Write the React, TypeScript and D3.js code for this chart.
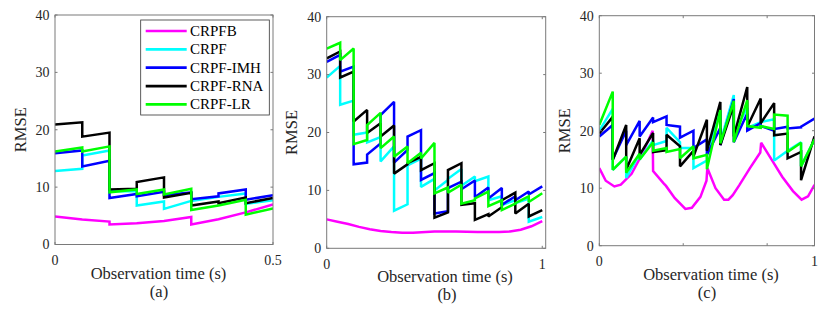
import React from 'react';
import * as d3 from 'd3';

const SERIES = ['CRPFB', 'CRPF', 'CRPF-IMH', 'CRPF-RNA', 'CRPF-LR'];
const COLORS = ['#ff00ff', '#00ffff', '#0000ff', '#000000', '#00ff00'];
const Y_TICKS = [0, 10, 20, 30, 40];

// Panel (a): 8 segments of 0.0625 s, each [start, end]
const aCRPFB = [[4.9, 4.35], [4.35, 4.0], [3.5, 3.7], [3.7, 4.1], [4.1, 4.8], [3.5, 4.4], [4.4, 5.6], [5.6, 7.0]];
const aCRPF = [[12.8, 13.2], [15.5, 16.4], [9.3, 9.3], [6.8, 7.5], [6.2, 7.6], [7.6, 8.3], [8.3, 8.9], [7.1, 7.7]];
const aIMH = [[15.9, 16.4], [13.6, 14.6], [8.1, 8.8], [8.4, 9.2], [8.6, 9.1], [7.9, 8.4], [8.9, 9.6], [7.8, 8.6]];
const aRNA = [[20.9, 21.3], [18.8, 19.5], [9.6, 9.7], [10.9, 11.7], [8.2, 9.0], [6.8, 7.5], [7.2, 8.2], [7.2, 8.1]];
const aLR = [[16.2, 16.9], [16.2, 17.1], [9.1, 9.6], [8.8, 9.6], [8.7, 9.7], [6.0, 6.8], [6.8, 7.8], [5.2, 6.3]];

// Panel (b): 16 segments of 0.0625 s
const bCRPFB: [number, number][] = [[0, 5.0], [0.05, 4.6], [0.1, 4.2], [0.15, 3.7], [0.2, 3.3], [0.25, 3.0], [0.3, 2.8], [0.35, 2.7], [0.4, 2.7], [0.5, 2.9], [0.6, 2.9], [0.7, 2.8], [0.8, 2.8], [0.85, 2.9], [0.9, 3.2], [0.95, 3.8], [1.0, 4.7]];
const bCRPF = [[29.5, 31.5], [24.8, 25.5], [19.6, 20.0], [18.3, 19.2], [15.0, 17.6], [6.5, 7.6], [14.3, 15.5], [10.6, 12.0], [10.0, 11.8], [12.0, 13.7], [10.8, 12.4], [11.6, 12.4], [8.3, 9.0], [7.5, 8.3], [7.8, 8.6], [4.6, 5.4]];
const bIMH = [[32.2, 33.4], [30.5, 31.4], [14.5, 14.8], [16.2, 18.1], [23.0, 25.3], [14.8, 17.0], [19.3, 20.4], [11.8, 13.0], [6.0, 6.4], [10.4, 11.5], [10.2, 11.7], [8.8, 10.5], [8.6, 10.4], [7.5, 9.0], [8.3, 9.8], [9.3, 10.7]];
const bRNA = [[32.8, 34.0], [29.5, 30.5], [21.9, 23.9], [19.9, 21.6], [19.3, 21.2], [12.9, 14.5], [14.7, 15.8], [13.5, 14.7], [5.3, 6.2], [13.5, 14.7], [7.5, 7.8], [4.9, 5.9], [5.5, 7.1], [8.3, 9.6], [6.0, 7.7], [5.5, 6.6]];
const bLR = [[34.5, 35.5], [32.5, 34.5], [18.0, 18.7], [21.3, 23.4], [17.3, 19.3], [15.8, 17.6], [14.7, 16.5], [15.5, 18.2], [9.5, 10.5], [9.6, 11.0], [7.7, 8.3], [8.6, 9.8], [7.3, 8.3], [6.6, 7.7], [7.8, 9.0], [8.0, 9.5]];

// Panel (c)
const cCRPFB: [number, number][] = [[0, 13.5], [0.03, 11.3], [0.07, 10.3], [0.1, 10.6], [0.15, 12.5], [0.2, 16.0], [0.248, 20.0], [0.25, 13.0], [0.3, 10.8], [0.31, 10.4], [0.35, 8.3], [0.4, 6.4], [0.43, 6.6], [0.47, 8.5], [0.498, 11.3], [0.502, 13.5], [0.54, 10.0], [0.58, 8.0], [0.6, 8.0], [0.62, 8.8], [0.65, 10.5], [0.7, 13.5], [0.748, 16.2], [0.752, 17.9], [0.8, 15.0], [0.85, 12.0], [0.9, 9.5], [0.94, 8.0], [0.97, 8.6], [1.0, 10.6]];
const cCRPF = [[20.0, 23.8], [13.2, 15.5], [11.8, 16.0], [15.0, 18.3], [17.5, 18.2], [20.5, 18.0], [17.0, 17.0], [13.5, 14.8], [16.0, 23.5], [18.0, 26.2], [19.5, 24.0], [20.5, 21.5], [21.5, 22.0], [14.8, 16.5], [16.5, 18.0], [13.8, 18.5]];
const cIMH = [[19.0, 21.0], [15.0, 20.0], [17.5, 21.7], [19.0, 22.3], [21.5, 22.5], [21.0, 20.7], [18.8, 20.0], [17.0, 18.5], [15.8, 20.5], [17.5, 25.5], [18.0, 23.0], [20.0, 21.3], [20.8, 20.0], [20.3, 20.7], [20.4, 20.6], [20.7, 22.1]];
const cRNA = [[19.5, 22.4], [14.9, 21.0], [13.2, 18.7], [15.8, 19.6], [16.3, 16.6], [19.3, 17.3], [13.8, 16.5], [15.5, 21.9], [16.5, 25.0], [17.5, 24.5], [19.0, 27.6], [20.7, 25.6], [21.3, 24.8], [19.2, 19.5], [15.2, 16.3], [11.4, 19.0]];
const cLR = [[21.0, 26.8], [13.2, 15.5], [12.7, 16.0], [15.0, 18.0], [16.5, 17.0], [16.3, 16.8], [15.2, 17.3], [15.2, 15.8], [13.3, 23.6], [17.8, 25.2], [18.0, 25.3], [20.8, 20.5], [20.8, 20.3], [22.8, 22.6], [16.3, 17.9], [13.8, 18.5]];

const SEG = 0.0625;

function segPoints(segs: number[][]): [number, number][] {
  const pts: [number, number][] = [];
  segs.forEach((s, k) => {
    pts.push([k * SEG, s[0]]);
    pts.push([(k + 1) * SEG, s[1]]);
  });
  return pts;
}

const FONT = 'Liberation Serif';
const TXT = '#262626';

type PanelCfg = {
  id: string;
  left: number; right: number; top: number; bottom: number;
  xDomain: [number, number];
  xLabels: { v: number; t: string }[];
  xMinor: number[];
  series: [number, number][][];
  obsX: number; subX: number; sub: string;
  legend?: boolean;
};

const PANELS: PanelCfg[] = [
  {
    id: 'a', left: 55, right: 273, top: 15, bottom: 244.5, xDomain: [0, 0.5],
    xLabels: [{ v: 0, t: '0' }, { v: 0.5, t: '0.5' }], xMinor: [],
    series: [segPoints(aCRPFB), segPoints(aCRPF), segPoints(aIMH), segPoints(aRNA), segPoints(aLR)],
    obsX: 158.5, subX: 159, sub: '(a)', legend: true,
  },
  {
    id: 'b', left: 326.7, right: 545.7, top: 16.7, bottom: 248.3, xDomain: [0, 1.016],
    xLabels: [{ v: 0, t: '0' }, { v: 1, t: '1' }], xMinor: [],
    series: [bCRPFB, segPoints(bCRPF), segPoints(bIMH), segPoints(bRNA), segPoints(bLR)],
    obsX: 445, subX: 447, sub: '(b)',
  },
  {
    id: 'c', left: 599.3, right: 814.5, top: 15.7, bottom: 245.7, xDomain: [0, 1],
    xLabels: [{ v: 0, t: '0' }, { v: 1, t: '1' }], xMinor: [0.39, 0.78],
    series: [cCRPFB, segPoints(cCRPF), segPoints(cIMH), segPoints(cRNA), segPoints(cLR)],
    obsX: 711, subX: 707, sub: '(c)',
  },
];

function Panel({ cfg }: { cfg: PanelCfg }) {
  const x = d3.scaleLinear().domain(cfg.xDomain).range([cfg.left, cfg.right]);
  const y = d3.scaleLinear().domain([0, 40]).range([cfg.bottom, cfg.top]);
  const line = d3.line<[number, number]>().x(d => x(d[0])).y(d => y(d[1]));
  const tl = 2.5;
  const axisColor = '#7a7a7a';
  const xt = [...cfg.xLabels.map(l => l.v), ...cfg.xMinor];
  return (
    <g>
      <defs>
        <clipPath id={'clip' + cfg.id}>
          <rect x={cfg.left} y={cfg.top} width={cfg.right - cfg.left} height={cfg.bottom - cfg.top} />
        </clipPath>
      </defs>
      <rect x={cfg.left} y={cfg.top} width={cfg.right - cfg.left} height={cfg.bottom - cfg.top} fill="#fff" />
      <g clipPath={`url(#clip${cfg.id})`}>
        {cfg.series.map((pts, i) => (
          <path key={i} d={line(pts) || ''} fill="none" stroke={COLORS[i]} strokeWidth={2.5} strokeLinejoin="miter" strokeMiterlimit={2} />
        ))}
      </g>
      <rect x={cfg.left} y={cfg.top} width={cfg.right - cfg.left} height={cfg.bottom - cfg.top} fill="none" stroke={axisColor} strokeWidth={1} />
      {Y_TICKS.map(t => (
        <g key={'y' + t}>
          <line x1={cfg.left} x2={cfg.left + tl} y1={y(t)} y2={y(t)} stroke={axisColor} />
          <line x1={cfg.right} x2={cfg.right - tl} y1={y(t)} y2={y(t)} stroke={axisColor} />
          <text x={cfg.left - 5.5} y={y(t) + 4.8} textAnchor="end" fontFamily={FONT} fontSize={14} fill={TXT}>{t}</text>
        </g>
      ))}
      {xt.map(t => (
        <g key={'x' + t}>
          <line x1={x(t)} x2={x(t)} y1={cfg.bottom} y2={cfg.bottom - tl} stroke={axisColor} />
          <line x1={x(t)} x2={x(t)} y1={cfg.top} y2={cfg.top + tl} stroke={axisColor} />
        </g>
      ))}
      {cfg.xLabels.map(l => (
        <text key={'xl' + l.t} x={x(l.v)} y={cfg.bottom + 20.5} textAnchor="middle" fontFamily={FONT} fontSize={14} fill={TXT}>{l.t}</text>
      ))}
      <text x={cfg.obsX} y={cfg.bottom + 34} textAnchor="middle" fontFamily={FONT} fontSize={16.5} fill={TXT}>Observation time (s)</text>
      <text x={cfg.subX} y={cfg.bottom + 52} textAnchor="middle" fontFamily={FONT} fontSize={16.5} fill={TXT}>{cfg.sub}</text>
      <text transform={`translate(${cfg.left - 29.5},${(cfg.top + cfg.bottom) / 2}) rotate(-90)`} textAnchor="middle" fontFamily={FONT} fontSize={16.5} fill={TXT}>RMSE</text>
      {cfg.legend && (
        <g>
          <rect x={140.7} y={20} width={128.6} height={95} fill="#fff" stroke="#333" strokeWidth={0.8} />
          {SERIES.map((s, i) => {
            const ly = 31 + i * 18.35;
            return (
              <g key={s}>
                <line x1={145.7} x2={186.7} y1={ly} y2={ly} stroke={COLORS[i]} strokeWidth={2.7} />
                <text x={190} y={ly + 5} fontFamily={FONT} fontSize={15} fill="#000">{s}</text>
              </g>
            );
          })}
        </g>
      )}
    </g>
  );
}

export default function App() {
  return (
    <svg width={831} height={312} style={{ position: 'absolute', left: 0, top: 0, background: '#fff' }}>
      <rect width={831} height={312} fill="#fff" />
      {PANELS.map(p => <Panel key={p.id} cfg={p} />)}
    </svg>
  );
}
